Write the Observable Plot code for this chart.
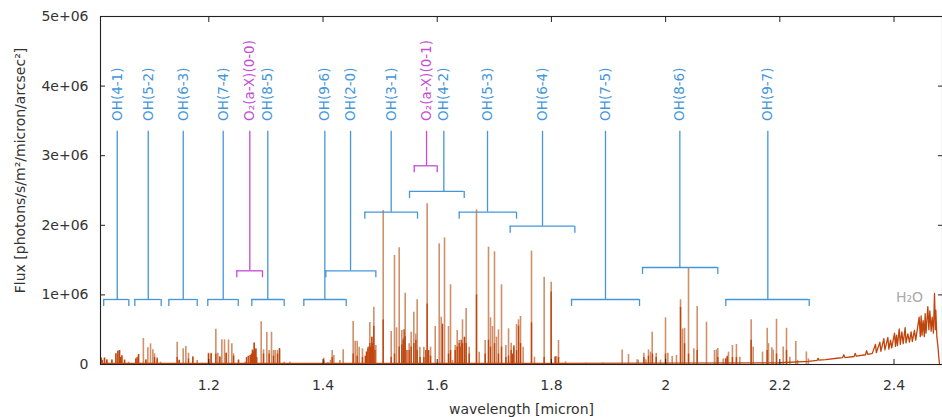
<!DOCTYPE html>
<html><head><meta charset="utf-8">
<script src="https://cdn.jsdelivr.net/npm/d3@7"></script>
<script src="https://cdn.jsdelivr.net/npm/@observablehq/plot@0.6"></script>
<style>
html,body{margin:0;padding:0;background:#fff;overflow:hidden}
</style>
</head><body><div id="chart"></div>
<script>
// ---- axis ticks ----
const xTicks = [1.2, 1.4, 1.6, 1.8, 2.0, 2.2, 2.4];
const yTicks = [0, 1, 2, 3, 4, 5];               // flux in units of 1e6
const yTickLabels = ["0", "1e+06", "2e+06", "3e+06", "4e+06", "5e+06"];
const xLabel = "wavelength [micron]";
const yLabel = "Flux [photons/s/m²/micron/arcsec²]";

// ---- band labels ----
const bandNames = ["OH(4-1)","OH(5-2)","OH(6-3)","OH(7-4)","O₂(a-X)(0-0)","OH(8-5)","OH(9-6)","OH(2-0)",
                   "OH(3-1)","O₂(a-X)(0-1)","OH(4-2)","OH(5-3)","OH(6-4)","OH(7-5)","OH(8-6)","OH(9-7)"];
const bandIsO2 = [false,false,false,false,true,false,false,false,false,true,false,false,false,false,false,false];
const bandCenter = [1.0396,1.0939,1.1552,1.2252,1.2718,1.3033,1.4032,1.4482,1.5194,1.5813,1.6116,1.6881,1.7844,1.8947,2.0249,2.1790];
const bandStart  = [1.0159,1.0704,1.1300,1.1982,1.2490,1.2753,1.3664,1.4050,1.4732,1.5597,1.5515,1.6385,1.7278,1.8352,1.9595,2.1054];
const bandEnd    = [1.0599,1.1166,1.1797,1.2515,1.2940,1.3320,1.4406,1.4925,1.5655,1.6000,1.6473,1.7389,1.8410,1.9543,2.0914,2.2515];
const bandLevel  = [0.934,0.934,0.934,0.934,1.346,0.934,0.934,1.346,2.188,2.855,2.486,2.188,1.987,0.934,1.394,0.934];
const h2oLabel = {text: "H₂O", wavelength: 2.4272, flux: 0.967};

// ---- emission line peaks [wavelength micron, flux 1e6] ----
const linePeaks = [
 [1.0115,0.096],[1.0173,0.096],[1.0214,0.067],[1.0302,0.067],[1.0372,0.153],[1.0407,0.191],[1.0436,0.201],[1.0477,0.129],
 [1.0524,0.067],[1.0594,0.033],[1.0722,0.081],[1.0769,0.144],[1.0854,0.374],[1.0897,0.067],[1.0932,0.239],[1.0979,0.297],
 [1.1020,0.211],[1.1049,0.153],[1.1096,0.096],[1.1154,0.033],[1.1446,0.321],[1.1481,0.057],[1.1551,0.225],[1.1598,0.259],
 [1.1644,0.163],[1.1720,0.115],[1.1796,0.057],[1.1878,0.019],[1.1995,0.163],[1.2041,0.163],[1.2123,0.508],[1.2158,0.163],
 [1.2193,0.115],[1.2228,0.354],[1.2275,0.354],[1.2304,0.163],[1.2345,0.354],[1.2403,0.297],[1.2433,0.153],[1.2520,0.067],
 [1.2637,0.033],[1.2725,0.129],[1.2765,0.211],[1.2795,0.306],[1.2824,0.225],[1.2917,0.613],[1.2958,0.211],[1.3016,0.460],
 [1.3057,0.201],[1.3098,0.464],[1.3133,0.201],[1.3162,0.201],[1.3203,0.201],[1.3238,0.211],[1.3320,0.033],[1.3418,0.033],
 [1.4014,0.090],[1.4085,0.030],[1.4130,0.060],[1.4160,0.200],[1.4190,0.130],[1.4295,0.057],[1.4353,0.211],
 [1.4528,0.618],[1.4563,0.335],[1.4598,0.335],[1.4633,0.249],[1.4691,0.225],[1.4785,0.249],[1.4820,0.603],[1.4855,0.393],
 [1.4890,0.824],[1.4925,0.273],[1.5054,2.213],[1.5194,0.474],[1.5252,1.566],[1.5287,0.527],[1.5334,1.676],[1.5380,0.489],
 [1.5404,0.369],[1.5439,1.025],[1.5509,0.297],[1.5544,0.465],[1.5590,0.752],[1.5626,0.440],[1.5649,0.929],[1.5696,0.249],
 [1.5766,0.249],[1.5824,2.308],[1.5883,0.249],[1.5965,0.546],[1.6035,1.734],
 [1.6070,0.680],[1.6128,1.820],[1.6198,0.546],[1.6233,1.145],[1.6268,0.057],[1.6315,0.273],[1.6350,0.489],[1.6385,0.345],
 [1.6443,0.642],[1.6478,0.393],[1.6507,0.805],[1.6560,0.249],[1.6688,2.222],[1.6735,0.177],[1.6840,0.345],[1.6898,1.686],
 [1.6933,0.671],[1.6968,0.546],[1.7003,1.619],[1.7038,0.393],[1.7073,0.498],[1.7126,1.145],[1.7202,0.273],[1.7249,0.512],
 [1.7295,0.307],[1.7342,0.273],[1.7389,0.575],[1.7424,0.642],[1.7459,0.690],[1.7505,0.249],[1.7651,1.628],[1.7703,0.105],
 [1.7873,1.255],[1.7996,1.183],[1.8066,0.115],[1.8090,0.115],[1.8124,0.345],[1.8247,0.036],[1.8600,0.020],[1.8900,0.020],
 [1.9239,0.210],[1.9350,0.144],[1.9502,0.067],[1.9520,0.060],[1.9619,0.163],[1.9654,0.067],[1.9700,0.210],[1.9735,0.178],
 [1.9765,0.464],[1.9835,0.160],[1.9910,0.063],[1.9998,0.670],[2.0039,0.163],[2.0115,0.115],[2.0190,0.130],[2.0261,0.929],
 [2.0296,0.510],[2.0331,0.520],[2.0401,1.389],[2.0494,0.225],[2.0553,0.833],[2.0716,0.608],[2.0856,0.200],[2.0891,0.210],
 [2.0914,0.230],[2.1008,0.080],[2.1067,0.095],[2.1101,0.178],[2.1170,0.273],[2.1240,0.287],[2.1300,0.105],[2.1498,0.642],
 [2.1533,0.250],[2.1697,0.178],[2.1779,0.520],[2.1802,0.300],[2.1860,0.240],[2.1884,0.210],[2.1942,0.650],[2.2059,0.250],
 [2.2117,0.520],[2.2176,0.105],[2.2280,0.330],[2.2310,0.060],[2.2465,0.180],[2.2500,0.080]
];

// ---- blended (dark) line cores [wavelength, flux 1e6] ----
const lineCores = [
 [1.0115,0.09],[1.0135,0.06],[1.0173,0.09],[1.0214,0.06],[1.0302,0.06],[1.0372,0.15],[1.0407,0.19],[1.0436,0.20],[1.0455,0.10],
 [1.0477,0.12],[1.0524,0.06],[1.0722,0.08],[1.0745,0.10],[1.0769,0.14],[1.0897,0.06],[1.1049,0.10],[1.1096,0.08],[1.1446,0.10],
 [1.1481,0.06],[1.1644,0.08],[1.1720,0.10],[1.1995,0.15],[1.2041,0.15],[1.2123,0.15],[1.2193,0.10],[1.2304,0.16],[1.2433,0.12],
 [1.2520,0.06],[1.2660,0.10],[1.2690,0.12],[1.2725,0.13],[1.2745,0.15],[1.2765,0.20],[1.2780,0.18],[1.2795,0.31],[1.2810,0.20],
 [1.2824,0.22],[1.2840,0.10],[1.2958,0.15],[1.3057,0.15],[1.3133,0.12],[1.3203,0.15],[1.3238,0.23],
 [1.4014,0.05],[1.4160,0.10],[1.4528,0.15],[1.4598,0.12],[1.4691,0.10],[1.4740,0.12],[1.4760,0.18],[1.4785,0.22],[1.4805,0.25],
 [1.4820,0.30],[1.4835,0.25],[1.4855,0.39],[1.4870,0.30],[1.4890,0.55],[1.4910,0.20],[1.5054,0.64],[1.5194,0.10],[1.5252,0.15],
 [1.5334,0.25],[1.5380,0.28],[1.5404,0.35],[1.5420,0.50],[1.5439,0.40],[1.5470,0.20],[1.5509,0.20],[1.5544,0.25],[1.5590,0.30],
 [1.5626,0.35],[1.5649,0.20],[1.5700,0.10],[1.5766,0.10],[1.5800,0.20],[1.5824,0.87],[1.5850,0.20],[1.5883,0.12],[1.6093,0.58],
 [1.6198,0.15],[1.6233,0.20],[1.6315,0.20],[1.6350,0.25],[1.6385,0.30],[1.6400,0.25],[1.6420,0.35],[1.6443,0.30],[1.6478,0.39],
 [1.6507,0.30],[1.6560,0.15],[1.6688,1.00],[1.6840,0.15],[1.6898,0.35],[1.6933,0.25],[1.7003,0.30],[1.7073,0.15],[1.7126,0.25],
 [1.7202,0.10],[1.7249,0.12],[1.7295,0.20],[1.7320,0.15],[1.7342,0.25],[1.7389,0.20],[1.7424,0.55],[1.7459,0.30],[1.7651,0.60],
 [1.7873,0.10],[1.7996,1.04],[1.8066,0.10],[1.8124,0.10],
 [1.9619,0.10],[1.9700,0.12],[1.9770,0.15],[1.9835,0.10],[1.9998,0.15],[2.0261,0.82],[2.0331,0.30],[2.0401,0.15],[2.0553,0.20],
 [2.0914,0.10],[2.1050,0.08],[2.1080,0.12],[2.1170,0.10],[2.1240,0.10],[2.1498,0.35],[2.1779,0.20],[2.1942,0.15],[2.2117,0.20]
];

// ---- continuum + thermal/H2O forest trace [wavelength, flux 1e6] ----
const continuum = [
 [1.0103,0.015],[1.8000,0.015],[2.2000,0.025],[2.2500,0.045],[2.2655,0.060],[2.2670,0.090],[2.2685,0.062],[2.2800,0.070],
 [2.3000,0.090],[2.3100,0.100],[2.3120,0.140],[2.3140,0.100],[2.3300,0.115],[2.3320,0.160],[2.3340,0.120],[2.3500,0.140],
 [2.3520,0.200],[2.3540,0.145],[2.3620,0.160],[2.3676,0.290],[2.3690,0.170],[2.3752,0.320],[2.3770,0.190],[2.3822,0.370],
 [2.3840,0.210],[2.3892,0.390],[2.3910,0.220],[2.3939,0.350],[2.3960,0.240],[2.4009,0.450],[2.4025,0.260],[2.4044,0.420],
 [2.4060,0.270],[2.4091,0.510],[2.4110,0.290],[2.4137,0.470],[2.4160,0.300],[2.4195,0.530],[2.4210,0.310],[2.4242,0.440],
 [2.4270,0.320],[2.4300,0.470],[2.4320,0.330],[2.4358,0.490],[2.4380,0.350],[2.4440,0.680],[2.4460,0.400],[2.4475,0.700],
 [2.4490,0.420],[2.4510,0.630],[2.4530,0.400],[2.4545,0.730],[2.4560,0.450],[2.4592,0.830],[2.4610,0.500],[2.4627,0.770],
 [2.4650,0.480],[2.4668,0.680],[2.4690,0.450],[2.4709,1.020],[2.4725,0.500],[2.4732,0.780],[2.4750,0.400],[2.4770,0.250],
 [2.4785,0.100],[2.4797,0.000]
];

// ---- styles ----
const OH_COLOR = "#4496da";
const O2_COLOR = "#c44bd6";
const TAN = "#d0906a";
const DARK = "#c0450d";

const bands = bandNames.map((name, i) => ({
  name, center: bandCenter[i], start: bandStart[i], end: bandEnd[i], level: bandLevel[i],
  color: bandIsO2[i] ? O2_COLOR : OH_COLOR
}));

const STEM_TOP = 3.35;   // where stems end, below labels
const LABEL_BASE = 3.50; // labels start here and run upward
const HOOK = 0.10;       // bracket end hooks

const chart = Plot.plot({
  width: 942, height: 417,
  marginLeft: 100, marginRight: 0, marginTop: 16, marginBottom: 53,
  style: {fontFamily: "'DejaVu Sans', sans-serif", fontSize: "14px", color: "#333", background: "#fff"},
  x: {domain: [1.0103, 2.4884], range: [100, 944]},
  y: {domain: [0, 5], range: [364, 16]},
  color: {type: "identity"},
  marks: [
    // spectrum
    Plot.ruleX(linePeaks, {x: d => d[0], y1: 0, y2: d => d[1], stroke: TAN, strokeWidth: 1.6}),
    Plot.ruleX(lineCores, {x: d => d[0], y1: 0, y2: d => d[1], stroke: DARK, strokeWidth: 1.4}),
    Plot.line(continuum, {x: d => d[0], y: d => d[1], stroke: DARK, strokeWidth: 1.3}),
    // band brackets
    Plot.ruleX(bands, {x: "center", y1: "level", y2: STEM_TOP, stroke: "color", strokeWidth: 1.3}),
    Plot.ruleY(bands, {y: "level", x1: "start", x2: "end", stroke: "color", strokeWidth: 1.3}),
    Plot.ruleX(bands, {x: "start", y1: "level", y2: d => d.level - HOOK, stroke: "color", strokeWidth: 1.3}),
    Plot.ruleX(bands, {x: "end", y1: "level", y2: d => d.level - HOOK, stroke: "color", strokeWidth: 1.3}),
    Plot.text(bands, {x: "center", y: LABEL_BASE, text: "name", rotate: -90, textAnchor: "start",
      lineAnchor: "middle", fill: "color", fontSize: 13.5}),
    Plot.text([h2oLabel], {x: "wavelength", y: "flux", text: "text", fill: "#aaaaaa", fontSize: 14}),
    // axes
    Plot.frame({stroke: "#222", strokeWidth: 1.1}),
    Plot.axisX(xTicks, {anchor: "bottom", tickSize: -5, tickPadding: 21, tickFormat: d => String(d), label: null, stroke: "#222"}),
    Plot.axisX(xTicks, {anchor: "top", tickSize: -5, tickFormat: () => "", label: null, stroke: "#222"}),
    Plot.axisY(yTicks, {anchor: "left", tickSize: -5, tickPadding: 17, tickFormat: (d, i) => yTickLabels[i], label: null, stroke: "#222"}),
    Plot.axisY(yTicks, {anchor: "right", tickSize: -5, tickFormat: () => "", label: null, stroke: "#222"}),
    Plot.text([xLabel], {frameAnchor: "bottom", dy: 45, lineAnchor: "middle", textAnchor: "middle", text: d => d, fill: "#333"}),
    Plot.text([yLabel], {frameAnchor: "left", rotate: -90, dx: -80, dy: -20, lineAnchor: "middle", textAnchor: "middle", text: d => d, fill: "#333"})
  ]
});
document.getElementById("chart").appendChild(chart);
</script>
</body></html>
